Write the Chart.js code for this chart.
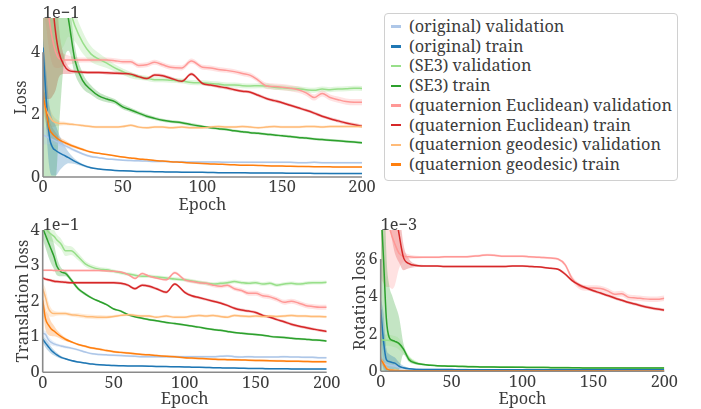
<!DOCTYPE html>
<html>
<head>
<meta charset="utf-8">
<script src="https://cdn.jsdelivr.net/npm/chart.js@4.4.1/dist/chart.umd.min.js"></script>
<style>
  body { margin: 0; background: #fff; width: 701px; height: 409px; position: relative; overflow: hidden; font-family: 'Noto Serif', 'Liberation Serif', serif; }
  canvas { position: absolute; }
  #legend { position: absolute; left: 384px; top: 13px; width: 294px; height: 168px; box-sizing: border-box;
            border: 1px solid #d0d0d0; border-radius: 4px; padding: 3px 0 0 6px; color: #3c3c3c; font-size: 16.3px; line-height: 19.7px; }
  #legend .item { white-space: nowrap; }
  #legend .swatch { display: inline-block; width: 10px; height: 2.5px; margin-right: 8px; vertical-align: middle; position: relative; top: -1px; }
</style>
</head>
<body>
<canvas id="cLoss" width="380" height="215" style="left:0;top:0"></canvas>
<canvas id="cTrans" width="345" height="194" style="left:0;top:215px"></canvas>
<canvas id="cRot" width="356" height="194" style="left:345px;top:215px"></canvas>
<div id="legend"></div>
<script>
const epochs = [0,2,4,6,8,10,13,16, 20,25,30,35,40,45,50,55,60,65,70,75,80, 87,93, 100,105,110,115,120,125,130,135,140,145,150,155,160,165,170,175,180,185,190,195,200];

const seriesNames = ['(original) validation', '(original) train', '(SE3) validation', '(SE3) train',
  '(quaternion Euclidean) validation', '(quaternion Euclidean) train', '(quaternion geodesic) validation', '(quaternion geodesic) train'];
const seriesColors = ['#aec7e8', '#1f77b4', '#98df8a', '#2ca02c', '#ff9896', '#d62728', '#ffbb78', '#ff7f0e'];

const xTicks = [0, 50, 100, 150, 200];

// ---- Loss (x 1e-1)
const lossTicks = [0, 2, 4];
const lossOrigVal = [1.35,1.3,1.25,1.2,1.15,1.1,1.02,0.95, 0.85,0.74,0.66,0.62,0.58,0.56,0.54,0.53,0.52,0.51,0.5,0.5,0.49, 0.49,0.48, 0.48,0.48,0.48,0.47,0.47,0.47,0.47,0.47,0.47,0.47,0.47,0.47,0.46,0.46,0.47,0.46,0.46,0.46,0.46,0.46,0.46];
const lossOrigTrain = [4.15,2.5,1.3,0.95,0.85,0.78,0.7,0.62, 0.5,0.38,0.3,0.26,0.23,0.21,0.2,0.19,0.18,0.175,0.17,0.165,0.16, 0.155,0.15, 0.15,0.145,0.14,0.14,0.14,0.135,0.13,0.13,0.13,0.125,0.125,0.12,0.12,0.12,0.115,0.115,0.11,0.11,0.11,0.11,0.11];
const lossSe3Val = [9,8.5,8,7.5,7,6.5,6,5.5, 4.85,4.3,3.95,3.78,3.65,3.5,3.38,3.27,3.2,3.17,3.12,3.12,3.1, 3.08,3.03, 3.02,3.0,2.98,2.95,2.95,2.93,2.92,2.93,2.92,2.88,2.86,2.84,2.83,2.8,2.78,2.82,2.8,2.82,2.83,2.85,2.84];
const lossSe3Train = [9,8.5,8,7.5,7,6.5,5.8,5.05, 3.75,3.08,2.8,2.6,2.5,2.42,2.25,2.15,2.05,1.95,1.88,1.82,1.78, 1.74,1.68, 1.62,1.58,1.55,1.52,1.48,1.45,1.42,1.4,1.37,1.35,1.32,1.3,1.27,1.25,1.22,1.2,1.18,1.16,1.14,1.12,1.1];
const lossEucVal = [7,6,5,4.4,4.0,3.8,3.75,3.75, 3.75,3.75,3.75,3.75,3.75,3.73,3.7,3.7,3.58,3.6,3.68,3.6,3.52, 3.5,3.72, 3.52,3.5,3.45,3.42,3.38,3.32,3.26,3.1,2.92,2.9,2.88,2.85,2.8,2.7,2.55,2.68,2.55,2.48,2.42,2.4,2.4];
const lossEucTrain = [12,9,7,5.6,4.6,4.0,3.6,3.42, 3.38,3.36,3.35,3.35,3.34,3.33,3.32,3.3,3.22,3.16,3.27,3.25,3.17, 3.07,3.3, 3.0,2.95,2.9,2.86,2.8,2.75,2.72,2.62,2.52,2.45,2.38,2.3,2.22,2.14,2.05,1.95,1.87,1.8,1.73,1.68,1.63];
const lossGeoVal = [2.45,2.15,1.95,1.8,1.75,1.72,1.72,1.7, 1.68,1.65,1.62,1.6,1.6,1.6,1.62,1.66,1.6,1.58,1.6,1.6,1.58, 1.6,1.58, 1.58,1.6,1.62,1.6,1.6,1.62,1.6,1.58,1.6,1.62,1.6,1.6,1.6,1.62,1.62,1.6,1.62,1.62,1.62,1.62,1.62];
const lossGeoTrain = [2.62,2.1,1.55,1.38,1.28,1.2,1.12,1.05, 0.97,0.88,0.8,0.76,0.72,0.68,0.64,0.61,0.58,0.56,0.53,0.51,0.49, 0.47,0.45, 0.43,0.42,0.41,0.4,0.39,0.38,0.375,0.37,0.36,0.355,0.35,0.345,0.34,0.335,0.33,0.33,0.325,0.32,0.32,0.32,0.32];
// half widths of the shaded bands
const lossOrigValSd = [0.3,0.25,0.2,0.15,0.12,0.1,0.08,0.06, 0.05,0.04,0.04,0.03,0.03,0.03,0.03,0.03,0.03,0.03,0.03,0.03,0.03, 0.03,0.03, 0.03,0.03,0.03,0.03,0.03,0.03,0.03,0.03,0.03,0.03,0.03,0.03,0.03,0.03,0.03,0.03,0.03,0.03,0.03,0.03,0.03];
const lossOrigTrainSd = [0.3,0.9,1.0,0.9,0.8,0.6,0.35,0.18, 0.08,0.04,0.03,0.02,0.02,0.02,0.02,0.02,0.02,0.02,0.02,0.02,0.02, 0.02,0.02, 0.02,0.02,0.02,0.02,0.02,0.02,0.02,0.02,0.02,0.02,0.02,0.02,0.02,0.02,0.02,0.02,0.02,0.02,0.02,0.02,0.02];
const lossSe3ValSd = [3,3,3,3,3,2.5,1.8,1.0, 0.5,0.35,0.25,0.2,0.15,0.12,0.1,0.1,0.08,0.08,0.08,0.08,0.08, 0.08,0.08, 0.08,0.08,0.08,0.08,0.08,0.08,0.08,0.08,0.08,0.08,0.08,0.08,0.08,0.08,0.08,0.08,0.08,0.08,0.08,0.08,0.08];
const lossSe3TrainSd = [9,8.5,8,7.5,7,5,2.2,1.0, 0.45,0.25,0.15,0.12,0.1,0.08,0.08,0.07,0.06,0.06,0.05,0.05,0.05, 0.05,0.05, 0.04,0.04,0.04,0.04,0.04,0.04,0.04,0.04,0.04,0.04,0.04,0.04,0.04,0.04,0.04,0.04,0.04,0.04,0.04,0.04,0.04];
const lossEucValSd = [1.5,1.2,1,0.8,0.5,0.3,0.2,0.15, 0.1,0.08,0.08,0.08,0.08,0.08,0.08,0.08,0.08,0.08,0.08,0.08,0.08, 0.08,0.08, 0.08,0.08,0.08,0.08,0.08,0.08,0.08,0.08,0.1,0.1,0.1,0.1,0.1,0.1,0.1,0.1,0.1,0.1,0.1,0.1,0.1];
const lossEucTrainSd = [9.5,6.5,4.5,3,1.8,0.8,0.3,0.12, 0.05,0.05,0.05,0.05,0.05,0.05,0.05,0.05,0.05,0.05,0.05,0.05,0.05, 0.05,0.05, 0.05,0.05,0.05,0.05,0.05,0.05,0.05,0.05,0.05,0.05,0.05,0.05,0.05,0.05,0.05,0.05,0.05,0.05,0.05,0.05,0.05];
const lossGeoValSd = [0.4,0.4,0.3,0.2,0.12,0.08,0.06,0.05, 0.04,0.04,0.04,0.04,0.04,0.04,0.04,0.04,0.04,0.04,0.04,0.04,0.04, 0.04,0.04, 0.04,0.04,0.04,0.04,0.04,0.04,0.04,0.04,0.04,0.04,0.04,0.04,0.04,0.04,0.04,0.04,0.04,0.04,0.04,0.04,0.04];
const lossGeoTrainSd = [0.2,0.45,0.3,0.2,0.15,0.1,0.08,0.06, 0.05,0.04,0.03,0.02,0.02,0.02,0.02,0.02,0.02,0.02,0.02,0.02,0.02, 0.02,0.02, 0.02,0.02,0.02,0.02,0.02,0.02,0.02,0.02,0.02,0.02,0.02,0.02,0.02,0.02,0.02,0.02,0.02,0.02,0.02,0.02,0.02];

// ---- Translation loss (x 1e-1)
const transTicks = [0, 1, 2, 3, 4];
const transOrigVal = [1.1,1.06,0.92,0.84,0.8,0.77,0.74,0.71, 0.68,0.63,0.57,0.52,0.5,0.49,0.48,0.47,0.46,0.45,0.44,0.44,0.44, 0.44,0.44, 0.44,0.44,0.44,0.44,0.44,0.45,0.46,0.44,0.43,0.44,0.43,0.43,0.43,0.43,0.44,0.43,0.43,0.42,0.42,0.41,0.41];
const transOrigTrain = [0.93,0.82,0.72,0.62,0.55,0.49,0.42,0.38, 0.33,0.29,0.26,0.23,0.21,0.2,0.19,0.185,0.18,0.18,0.175,0.17,0.165, 0.16,0.155, 0.15,0.145,0.14,0.135,0.13,0.125,0.12,0.12,0.115,0.11,0.11,0.105,0.1,0.1,0.1,0.095,0.095,0.09,0.09,0.09,0.09];
const transSe3Val = [4.6,4.1,3.95,3.88,3.82,3.72,3.6,3.42, 3.42,3.25,3.05,2.95,2.9,2.88,2.84,2.8,2.76,2.73,2.7,2.7,2.68, 2.65,2.62, 2.6,2.57,2.53,2.5,2.48,2.5,2.52,2.55,2.52,2.5,2.52,2.48,2.5,2.45,2.48,2.5,2.48,2.5,2.52,2.52,2.53];
const transSe3Train = [4.05,3.85,3.65,3.45,3.25,2.98,2.82,2.78, 2.6,2.35,2.2,2.08,1.99,1.9,1.78,1.72,1.62,1.56,1.52,1.48,1.45, 1.4,1.37, 1.33,1.3,1.27,1.23,1.2,1.18,1.15,1.12,1.1,1.08,1.06,1.04,1.01,0.99,0.98,0.96,0.94,0.93,0.91,0.9,0.88];
const transEucVal = [2.87,2.87,2.87,2.87,2.86,2.86,2.86,2.86, 2.86,2.86,2.86,2.86,2.86,2.85,2.84,2.82,2.75,2.64,2.78,2.7,2.65, 2.6,2.8, 2.6,2.55,2.52,2.5,2.45,2.42,2.45,2.35,2.3,2.22,2.22,2.15,2.12,2.05,1.97,2.0,1.95,1.88,1.85,1.83,1.83];
const transEucTrain = [2.65,2.62,2.6,2.58,2.56,2.55,2.54,2.53, 2.52,2.52,2.52,2.52,2.52,2.52,2.52,2.5,2.45,2.35,2.45,2.42,2.35, 2.25,2.48, 2.25,2.15,2.1,2.05,2.0,1.95,1.88,1.8,1.75,1.72,1.68,1.6,1.55,1.48,1.42,1.35,1.3,1.26,1.22,1.18,1.15];
const transGeoVal = [2.35,2.1,1.8,1.68,1.65,1.65,1.65,1.65, 1.62,1.6,1.57,1.56,1.55,1.55,1.57,1.6,1.62,1.6,1.58,1.58,1.55, 1.58,1.55, 1.55,1.58,1.6,1.58,1.6,1.57,1.55,1.6,1.58,1.57,1.58,1.57,1.58,1.57,1.58,1.6,1.58,1.58,1.57,1.57,1.56];
const transGeoTrain = [2.02,1.5,1.33,1.22,1.16,1.09,1.0,0.93, 0.86,0.78,0.73,0.68,0.65,0.61,0.58,0.56,0.54,0.52,0.5,0.49,0.47, 0.45,0.44, 0.41,0.4,0.39,0.38,0.37,0.36,0.355,0.35,0.345,0.34,0.335,0.33,0.325,0.32,0.315,0.31,0.31,0.305,0.3,0.3,0.3];
const transOrigValSd = [0.08,0.1,0.1,0.08,0.06,0.05,0.04,0.04, 0.03,0.03,0.03,0.03,0.03,0.03,0.03,0.03,0.03,0.03,0.03,0.03,0.03, 0.03,0.03, 0.03,0.03,0.03,0.03,0.03,0.03,0.03,0.03,0.03,0.03,0.03,0.03,0.03,0.03,0.03,0.03,0.03,0.03,0.03,0.03,0.03];
const transOrigTrainSd = [0.1,0.12,0.12,0.1,0.08,0.06,0.04,0.03, 0.02,0.02,0.02,0.02,0.02,0.02,0.02,0.02,0.02,0.02,0.02,0.02,0.02, 0.02,0.02, 0.02,0.02,0.02,0.02,0.02,0.02,0.02,0.02,0.02,0.02,0.02,0.02,0.02,0.02,0.02,0.02,0.02,0.02,0.02,0.02,0.02];
const transSe3ValSd = [0.3,0.3,0.25,0.2,0.18,0.15,0.15,0.15, 0.12,0.1,0.08,0.07,0.06,0.06,0.05,0.05,0.05,0.05,0.05,0.05,0.05, 0.05,0.05, 0.05,0.05,0.05,0.05,0.05,0.05,0.05,0.05,0.05,0.05,0.05,0.05,0.05,0.05,0.05,0.05,0.05,0.05,0.05,0.05,0.05];
const transSe3TrainSd = [0.3,0.35,0.4,0.4,0.35,0.25,0.12,0.08, 0.06,0.05,0.04,0.03,0.03,0.03,0.03,0.03,0.03,0.03,0.03,0.03,0.03, 0.03,0.03, 0.03,0.03,0.03,0.03,0.03,0.03,0.03,0.03,0.03,0.03,0.03,0.03,0.03,0.03,0.03,0.03,0.03,0.03,0.03,0.03,0.03];
const transEucValSd = [0.03,0.03,0.03,0.03,0.03,0.03,0.03,0.03, 0.03,0.03,0.03,0.03,0.03,0.03,0.03,0.03,0.03,0.03,0.03,0.03,0.03, 0.04,0.04, 0.05,0.05,0.05,0.05,0.06,0.06,0.06,0.06,0.06,0.07,0.07,0.07,0.07,0.07,0.07,0.07,0.07,0.07,0.07,0.07,0.07];
const transEucTrainSd = [0.04,0.04,0.04,0.04,0.04,0.04,0.04,0.04, 0.04,0.04,0.04,0.04,0.04,0.04,0.04,0.04,0.04,0.04,0.04,0.04,0.04, 0.04,0.04, 0.04,0.04,0.04,0.04,0.04,0.04,0.04,0.04,0.04,0.04,0.04,0.04,0.04,0.04,0.04,0.04,0.04,0.04,0.04,0.04,0.04];
const transGeoValSd = [0.15,0.25,0.2,0.12,0.08,0.06,0.05,0.05, 0.05,0.06,0.06,0.06,0.06,0.05,0.04,0.04,0.04,0.04,0.04,0.04,0.04, 0.04,0.04, 0.04,0.04,0.04,0.04,0.04,0.04,0.04,0.04,0.04,0.04,0.04,0.04,0.04,0.04,0.04,0.04,0.04,0.04,0.04,0.04,0.04];
const transGeoTrainSd = [0.25,0.3,0.28,0.2,0.15,0.1,0.07,0.05, 0.03,0.03,0.03,0.03,0.03,0.03,0.03,0.03,0.03,0.03,0.03,0.03,0.03, 0.03,0.03, 0.03,0.03,0.03,0.03,0.03,0.03,0.03,0.03,0.03,0.03,0.03,0.03,0.03,0.03,0.03,0.03,0.03,0.03,0.03,0.03,0.03];

// ---- Rotation loss (x 1e-3)
const rotTicks = [0, 2, 4, 6];
const rotOrigVal = [0.5,0.42,0.36,0.32,0.3,0.28,0.22,0.17, 0.13,0.11,0.1,0.095,0.09,0.09,0.09,0.09,0.09,0.085,0.085,0.085,0.085, 0.085,0.085, 0.085,0.085,0.085,0.085,0.085,0.085,0.085,0.085,0.085,0.08,0.08,0.08,0.08,0.08,0.08,0.08,0.08,0.08,0.08,0.08,0.08];
const rotOrigTrain = [3.3,1.6,0.62,0.52,0.47,0.44,0.27,0.19, 0.13,0.1,0.095,0.09,0.09,0.09,0.09,0.085,0.085,0.085,0.085,0.085,0.085, 0.08,0.08, 0.08,0.08,0.08,0.08,0.08,0.08,0.08,0.08,0.08,0.08,0.08,0.08,0.08,0.08,0.08,0.08,0.08,0.08,0.08,0.08,0.08];
const rotSe3Val = [1.68,1.67,1.66,1.65,1.63,1.58,1.45,1.15, 0.7,0.45,0.37,0.33,0.3,0.29,0.28,0.27,0.26,0.25,0.245,0.24,0.235, 0.23,0.225, 0.22,0.215,0.21,0.21,0.205,0.2,0.2,0.195,0.195,0.19,0.19,0.19,0.185,0.185,0.185,0.18,0.18,0.18,0.18,0.18,0.18];
const rotSe3Train = [9,6,2.8,1.8,1.66,1.6,1.48,1.2, 0.62,0.43,0.36,0.32,0.29,0.28,0.27,0.26,0.25,0.24,0.235,0.23,0.225, 0.22,0.215, 0.21,0.205,0.2,0.2,0.195,0.19,0.19,0.185,0.185,0.18,0.18,0.18,0.175,0.175,0.175,0.17,0.17,0.17,0.17,0.17,0.17];
const rotEucVal = [9,8.5,8,7.7,7.2,6.8,6.3,6.15, 6.12,6.1,6.1,6.1,6.1,6.12,6.12,6.12,6.12,6.15,6.18,6.22,6.2, 6.15,6.15, 6.15,6.12,6.1,6.08,6.05,6.0,5.7,4.95,4.55,4.45,4.45,4.42,4.3,4.12,4.15,3.95,3.92,3.88,3.85,3.85,3.9];
const rotEucTrain = [14,13,12,11,10,8.8,7.3,6.1, 5.75,5.65,5.63,5.62,5.62,5.6,5.6,5.6,5.6,5.6,5.6,5.6,5.6, 5.6,5.62, 5.62,5.6,5.58,5.55,5.5,5.45,5.2,4.85,4.62,4.45,4.3,4.18,4.05,3.92,3.8,3.68,3.58,3.48,3.4,3.33,3.27];
const rotGeoVal = [0.65,0.45,0.2,0.1,0.07,0.05,0.04,0.04, 0.035,0.035,0.035,0.035,0.035,0.035,0.035,0.035,0.035,0.035,0.035,0.035,0.035, 0.035,0.035, 0.03,0.03,0.03,0.03,0.03,0.03,0.03,0.03,0.03,0.03,0.03,0.03,0.03,0.03,0.03,0.03,0.03,0.03,0.03,0.03,0.03];
const rotGeoTrain = [0.62,0.4,0.15,0.07,0.05,0.04,0.035,0.03, 0.03,0.03,0.03,0.03,0.03,0.03,0.03,0.03,0.03,0.03,0.03,0.03,0.03, 0.03,0.03, 0.025,0.025,0.025,0.025,0.025,0.025,0.025,0.025,0.025,0.025,0.025,0.025,0.02,0.02,0.02,0.02,0.02,0.02,0.02,0.02,0.02];
const rotOrigValSd = [0.3,0.3,0.25,0.2,0.15,0.12,0.08,0.05, 0.02,0.02,0.02,0.02,0.02,0.02,0.02,0.02,0.02,0.02,0.02,0.02,0.02, 0.02,0.02, 0.02,0.02,0.02,0.02,0.02,0.02,0.02,0.02,0.02,0.02,0.02,0.02,0.02,0.02,0.02,0.02,0.02,0.02,0.02,0.02,0.02];
const rotOrigTrainSd = [0.6,1.5,0.6,0.4,0.35,0.3,0.2,0.1, 0.05,0.03,0.02,0.02,0.02,0.02,0.02,0.02,0.02,0.02,0.02,0.02,0.02, 0.02,0.02, 0.02,0.02,0.02,0.02,0.02,0.02,0.02,0.02,0.02,0.02,0.02,0.02,0.02,0.02,0.02,0.02,0.02,0.02,0.02,0.02,0.02];
const rotSe3ValSd = [0.3,0.3,0.3,0.3,0.3,0.3,0.3,0.2, 0.15,0.1,0.05,0.04,0.04,0.04,0.04,0.04,0.04,0.04,0.04,0.04,0.04, 0.04,0.04, 0.04,0.04,0.04,0.04,0.04,0.04,0.04,0.04,0.04,0.04,0.04,0.04,0.04,0.04,0.04,0.04,0.04,0.04,0.04,0.04,0.04];
const rotSe3TrainSd = [9,6,3.5,2.8,2.4,2.0,1.4,0.3, 0.12,0.06,0.04,0.03,0.03,0.03,0.03,0.03,0.03,0.03,0.03,0.03,0.03, 0.03,0.03, 0.03,0.03,0.03,0.03,0.03,0.03,0.03,0.03,0.03,0.03,0.03,0.03,0.03,0.03,0.03,0.03,0.03,0.03,0.03,0.03,0.03];
const rotEucValSd = [4,3.8,3.5,3.2,2.8,2.2,0.8,0.3, 0.12,0.08,0.06,0.06,0.06,0.06,0.06,0.06,0.06,0.06,0.06,0.06,0.06, 0.06,0.06, 0.06,0.06,0.06,0.06,0.06,0.06,0.1,0.15,0.15,0.15,0.15,0.15,0.15,0.15,0.15,0.15,0.15,0.15,0.15,0.15,0.15];
const rotEucTrainSd = [3,3,3,3,3,2.5,1.5,0.7, 0.25,0.08,0.05,0.05,0.05,0.05,0.05,0.05,0.05,0.05,0.05,0.05,0.05, 0.05,0.05, 0.05,0.05,0.05,0.05,0.05,0.05,0.08,0.08,0.08,0.08,0.08,0.08,0.08,0.08,0.08,0.08,0.08,0.08,0.08,0.08,0.08];
const rotGeoValSd = [0.2,0.2,0.12,0.06,0.04,0.03,0.02,0.01, 0.01,0.01,0.01,0.01,0.01,0.01,0.01,0.01,0.01,0.01,0.01,0.01,0.01, 0.01,0.01, 0.01,0.01,0.01,0.01,0.01,0.01,0.01,0.01,0.01,0.01,0.01,0.01,0.01,0.01,0.01,0.01,0.01,0.01,0.01,0.01,0.01];
const rotGeoTrainSd = [0.15,0.2,0.1,0.05,0.03,0.02,0.01,0.01, 0.01,0.01,0.01,0.01,0.01,0.01,0.01,0.01,0.01,0.01,0.01,0.01,0.01, 0.01,0.01, 0.01,0.01,0.01,0.01,0.01,0.01,0.01,0.01,0.01,0.01,0.01,0.01,0.01,0.01,0.01,0.01,0.01,0.01,0.01,0.01,0.01];

const textColor = '#3c3c3c';
const fontFamily = "'Noto Serif', 'Liberation Serif', serif";
const axisFontSize = 16.3;
Chart.defaults.font.family = fontFamily;

function rgba(hex, a) {
  const n = parseInt(hex.slice(1), 16);
  return `rgba(${n >> 16}, ${(n >> 8) & 255}, ${n & 255}, ${a})`;
}

// matplotlib/seaborn style trimmed spines plus the offset text (1e-1 etc.)
const trimmedSpines = {
  id: 'trimmedSpines',
  afterDatasetsDraw(chart, args, opts) {
    const { ctx, chartArea, scales: { x, y } } = chart;
    const yt = y.ticks, xt = x.ticks;
    ctx.save();
    ctx.strokeStyle = '#8a8a8a';
    ctx.lineWidth = 1.6;
    ctx.beginPath();
    ctx.moveTo(chartArea.left, y.getPixelForValue(yt[0].value));
    ctx.lineTo(chartArea.left, y.getPixelForValue(yt[yt.length - 1].value));
    ctx.moveTo(x.getPixelForValue(xt[0].value), chartArea.bottom);
    ctx.lineTo(x.getPixelForValue(xt[xt.length - 1].value), chartArea.bottom);
    ctx.stroke();
    ctx.fillStyle = textColor;
    ctx.font = axisFontSize + 'px ' + fontFamily;
    ctx.textAlign = 'left';
    ctx.textBaseline = 'alphabetic';
    ctx.fillText(opts.offset, chartArea.left, chartArea.top);
    ctx.restore();
  }
};

function buildDatasets(series, spreads) {
  const lines = series.map((vals, i) => ({
    data: epochs.map((e, j) => ({ x: e, y: vals[j] })),
    borderColor: seriesColors[i],
    borderWidth: 1.5,
    pointRadius: 0,
    fill: false,
    cubicInterpolationMode: 'monotone',
    order: series.length - i
  }));
  const bands = [];
  series.forEach((vals, i) => {
    const sd = spreads[i];
    bands.push({
      data: epochs.map((e, j) => ({ x: e, y: vals[j] + sd[j] })),
      borderWidth: 0, pointRadius: 0, fill: false,
      cubicInterpolationMode: 'monotone', order: 20
    });
    bands.push({
      data: epochs.map((e, j) => ({ x: e, y: vals[j] - sd[j] })),
      borderWidth: 0, pointRadius: 0, fill: '-1',
      backgroundColor: rgba(seriesColors[i], 0.28),
      cubicInterpolationMode: 'monotone', order: 20
    });
  });
  return bands.concat(lines);
}

function makePanel(id, p) {
  const font = { size: axisFontSize, family: fontFamily };
  new Chart(document.getElementById(id), {
    type: 'line',
    data: { datasets: buildDatasets(p.series, p.spreads) },
    plugins: [trimmedSpines],
    options: {
      responsive: false,
      animation: false,
      layout: { padding: { left: 0, top: p.padTop, right: p.padRight, bottom: 0 } },
      plugins: { legend: { display: false }, tooltip: { enabled: false }, trimmedSpines: { offset: p.offset } },
      scales: {
        x: {
          type: 'linear', min: 0, max: 200,
          afterBuildTicks: s => { s.ticks = xTicks.map(v => ({ value: v })); },
          afterFit: s => { s.height = p.xHeight; },
          grid: { display: false, drawTicks: false }, border: { display: false },
          ticks: { font, color: textColor, padding: 1, maxRotation: 0, autoSkip: false },
          title: { display: true, text: 'Epoch', font, color: textColor, padding: { top: 0, bottom: p.xTitlePad } }
        },
        y: {
          type: 'linear', min: 0, max: p.yMax,
          afterBuildTicks: s => { s.ticks = p.yTicks.map(v => ({ value: v })); },
          afterFit: s => { s.width = p.yWidth; },
          grid: { display: false, drawTicks: false }, border: { display: false },
          ticks: { font, color: textColor, padding: 3 },
          title: { display: true, text: p.yTitle, font, color: textColor, padding: { top: p.yTitlePad, bottom: 0 } }
        }
      }
    }
  });
}

makePanel('cLoss', {
  series: [lossOrigVal, lossOrigTrain, lossSe3Val, lossSe3Train, lossEucVal, lossEucTrain, lossGeoVal, lossGeoTrain],
  spreads: [lossOrigValSd, lossOrigTrainSd, lossSe3ValSd, lossSe3TrainSd, lossEucValSd, lossEucTrainSd, lossGeoValSd, lossGeoTrainSd],
  yMax: 5.1, yTicks: lossTicks, yTitle: 'Loss', offset: '1e\u22121',
  padTop: 18, padRight: 18, xHeight: 38, yWidth: 43, yTitlePad: 12, xTitlePad: 0
});

makePanel('cTrans', {
  series: [transOrigVal, transOrigTrain, transSe3Val, transSe3Train, transEucVal, transEucTrain, transGeoVal, transGeoTrain],
  spreads: [transOrigValSd, transOrigTrainSd, transSe3ValSd, transSe3TrainSd, transEucValSd, transEucTrainSd, transGeoValSd, transGeoTrainSd],
  yMax: 4, yTicks: transTicks, yTitle: 'Translation loss', offset: '1e\u22121',
  padTop: 15, padRight: 18.3, xHeight: 36.7, yWidth: 42.7, yTitlePad: 13.5, xTitlePad: 0
});

makePanel('cRot', {
  series: [rotOrigVal, rotOrigTrain, rotSe3Val, rotSe3Train, rotEucVal, rotEucTrain, rotGeoVal, rotGeoTrain],
  spreads: [rotOrigValSd, rotOrigTrainSd, rotSe3ValSd, rotSe3TrainSd, rotEucValSd, rotEucTrainSd, rotGeoValSd, rotGeoTrainSd],
  yMax: 7.55, yTicks: rotTicks, yTitle: 'Rotation loss', offset: '1e\u22123',
  padTop: 15, padRight: 36.7, xHeight: 37.7, yWidth: 35.7, yTitlePad: 5.2, xTitlePad: 0
});

// legend shared by the three panels
const legend = document.getElementById('legend');
seriesNames.forEach((name, i) => {
  const row = document.createElement('div');
  row.className = 'item';
  const sw = document.createElement('span');
  sw.className = 'swatch';
  sw.style.background = seriesColors[i];
  row.appendChild(sw);
  row.appendChild(document.createTextNode(name));
  legend.appendChild(row);
});
</script>
</body>
</html>
